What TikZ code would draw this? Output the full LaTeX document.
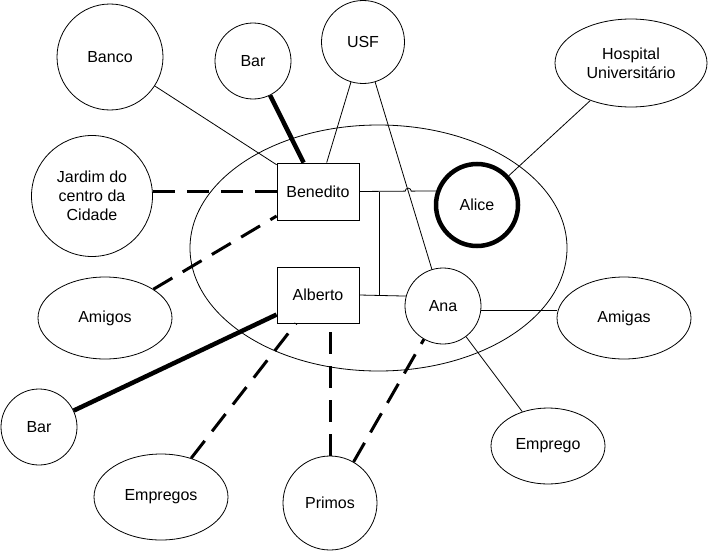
\documentclass[tikz,border=0pt]{standalone}
\usepackage{fontspec}
\setmainfont{Liberation Sans}
\usetikzlibrary{shapes.geometric,intersections,calc}
\begin{document}
\begin{tikzpicture}[x=1pt,y=-1pt,
  every node/.style={font=\fontsize{16}{19}\selectfont, align=center, inner sep=0pt},
  circ/.style={circle, draw, line width=0.8pt},
  ell/.style={ellipse, draw, line width=0.8pt},
  box/.style={rectangle, draw, line width=0.8pt, minimum width=82pt, minimum height=57pt},
  thinline/.style={line width=0.8pt},
  heavyline/.style={line width=4.5pt},
  dashline/.style={line width=3pt, dash pattern=on 22pt off 12pt}]
\useasboundingbox (0,0) rectangle (708,551);
% group ellipse
\node[ell, minimum width=377pt, minimum height=246pt] (group) at (378.5,248) {};
% inner nodes
\node[box] (Benedito) at (318,191.5) {Benedito};
\node[box, minimum height=56pt] (Alberto) at (318,295) {Alberto};
\node[circle, draw, line width=4.5pt, minimum size=82pt] (Alice) at (477,205) {Alice};
\node[circ, minimum size=76pt] (Ana) at (443,306) {Ana};
% outer nodes
\node[circ, minimum size=106pt] (Banco) at (110,57) {Banco};
\node[circ, minimum size=76pt] (BarTop) at (253,61) {Bar};
\node[circ, minimum size=83pt] (USF) at (363,42) {USF};
\node[ell, minimum width=152pt, minimum height=88pt] (Hospital) at (631,63) {Hospital\\Universitário};
\node[circ, minimum size=121pt] (Jardim) at (92,196) {Jardim do\\centro da\\Cidade};
\node[ell, minimum width=134pt, minimum height=82pt] (Amigos) at (105,318) {Amigos};
\node[ell, minimum width=134pt, minimum height=82pt] (Amigas) at (624,318) {Amigas};
\node[circ, minimum size=76pt] (BarLow) at (39,427) {Bar};
\node[ell, minimum width=134pt, minimum height=86pt] (Empregos) at (161,497) {Empregos};
\node[circ, minimum size=94pt] (Primos) at (330,503) {Primos};
\node[ell, minimum width=114pt, minimum height=76pt] (Emprego) at (548,446) {Emprego};
% thin connectors
\draw[thinline] (Banco) -- (Benedito);
\draw[thinline] (USF) -- (Benedito);
\draw[thinline, name path=usfana] (USF) -- (Ana);
\draw[thinline] (Alice) -- (Hospital);
\draw[thinline] (Ana.-6) -- (Ana.-6 -| Amigas.west);
\draw[thinline] (Ana) -- (Emprego);
\path[name path=bedal] (Benedito.east) -- (Alice.161);
\path[name intersections={of=usfana and bedal, by=hop}];
\draw[thinline] (Benedito.east) -- ([xshift=-3pt]hop) arc[start angle=180, end angle=0, radius=3pt] -- (Alice.161);
\draw[thinline] (Alberto.east) -- (Ana.165);
\draw[thinline] ($(Benedito.east)+(20,0)$) -- ($(Alberto.east)+(20,0)$);
% heavy connectors
\draw[heavyline] (BarTop) -- (Benedito);
\draw[heavyline] (Alberto) -- (BarLow);
% dashed connectors
\draw[dashline] (Jardim.east |- Benedito.west) -- (Benedito.west);
\draw[dashline] (Amigos) -- (Benedito);
\draw[dashline] (Empregos) -- (Alberto);
\draw[dashline] (Primos.north) -- (Primos.north |- Alberto.south);
\draw[dashline] (Primos) -- (Ana);
\end{tikzpicture}
\end{document}
